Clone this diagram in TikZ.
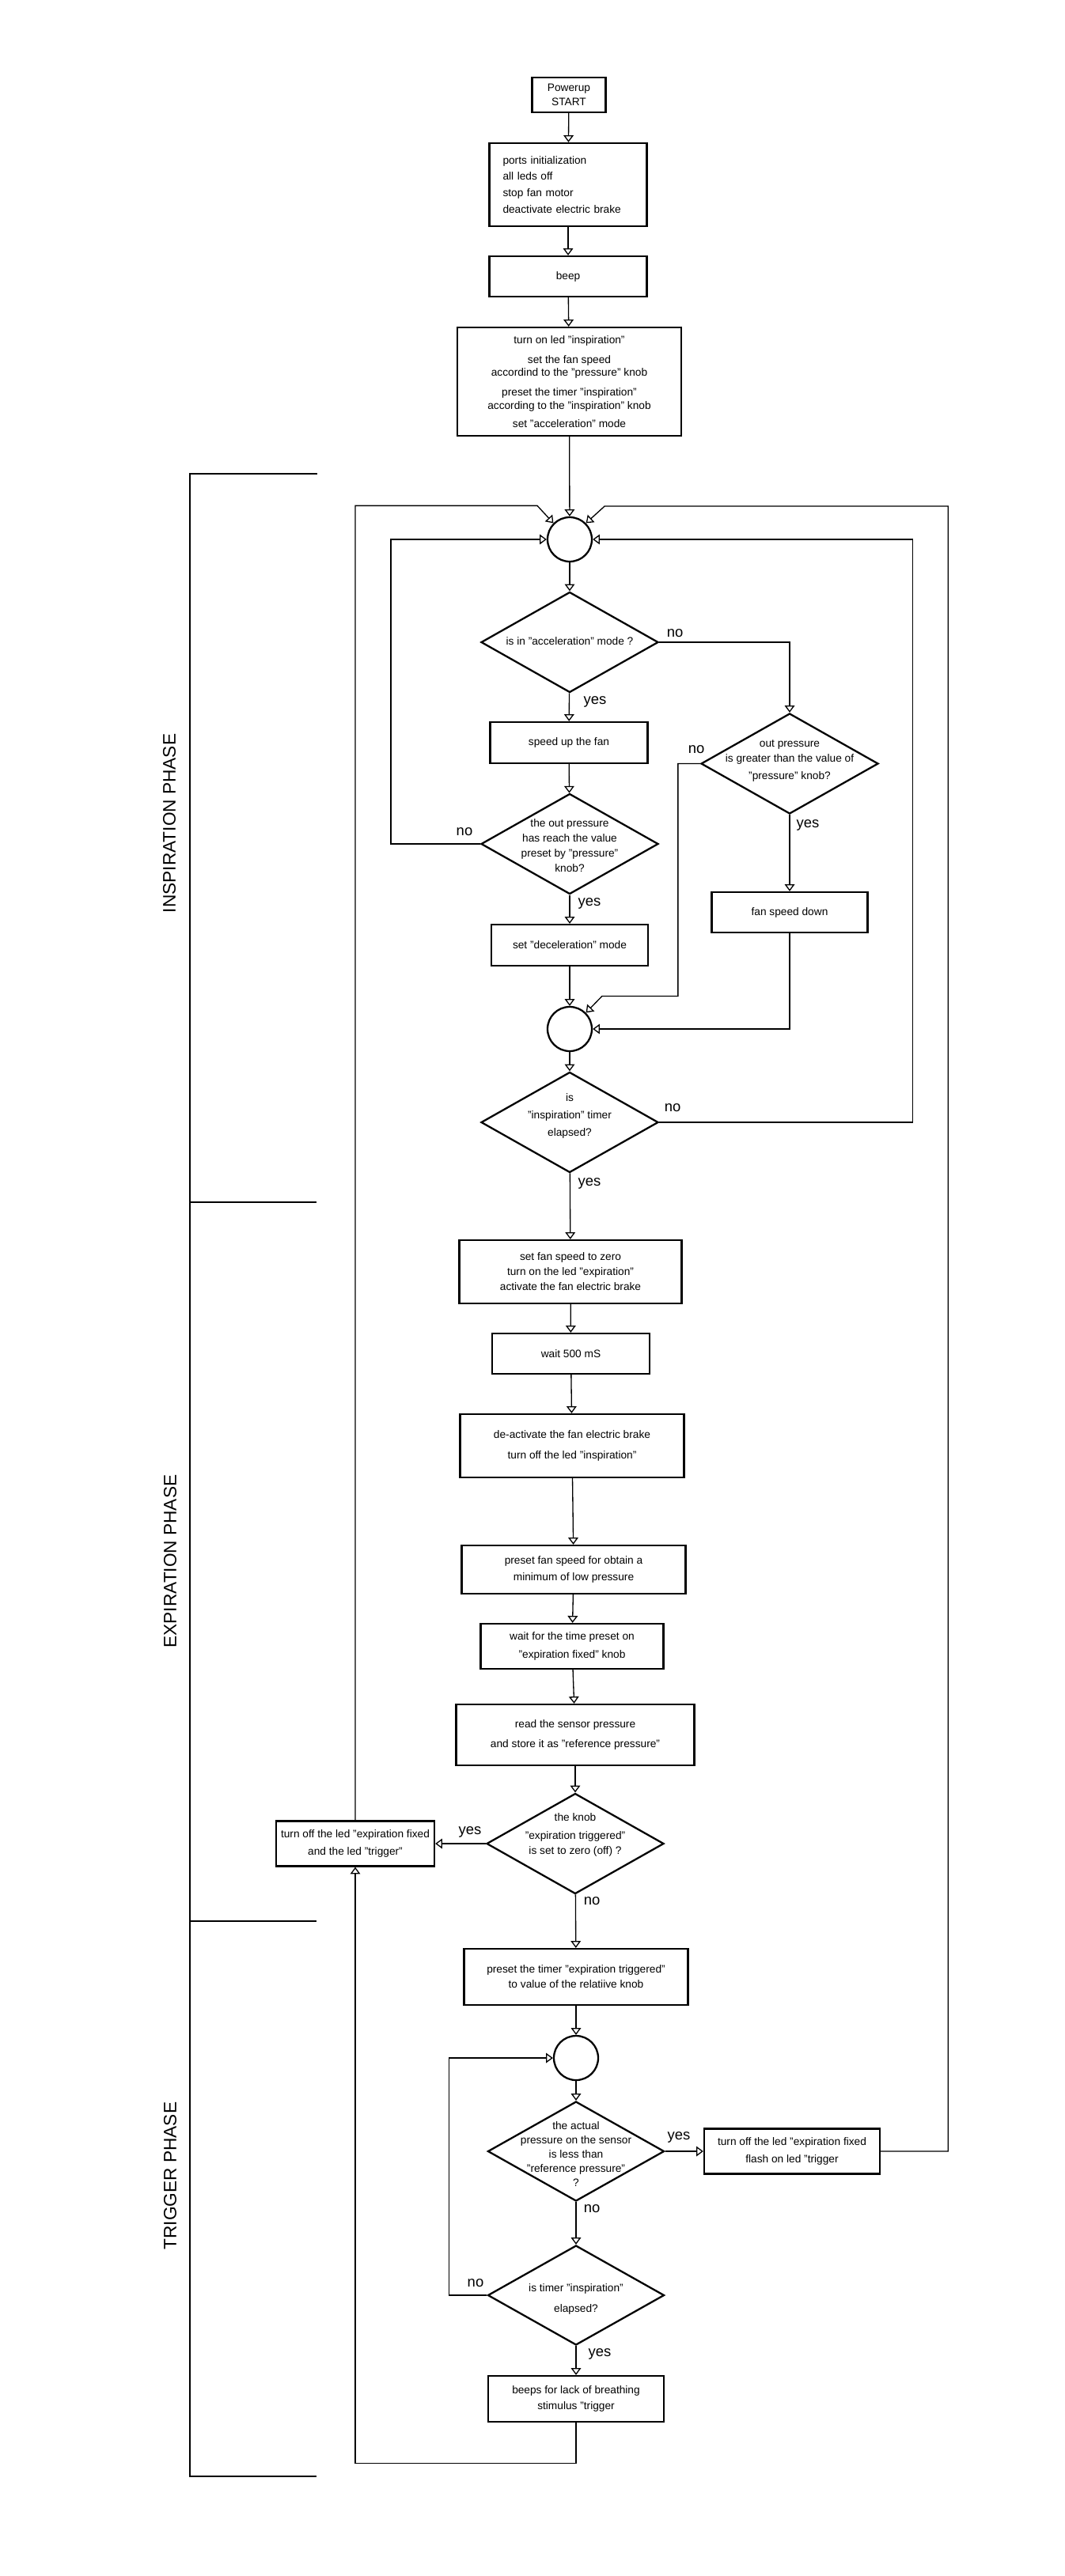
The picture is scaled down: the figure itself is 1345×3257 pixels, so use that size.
\documentclass[tikz,border=0pt]{standalone}
\usepackage{fontspec}
\setmainfont{Liberation Sans}
\usetikzlibrary{arrows.meta,shapes.geometric}
\newlength{\pix}
\setlength{\pix}{0.02cm}
\begin{document}
\begin{tikzpicture}[x=0.02cm,y=-0.02cm,
	caja/.style={draw,line width=1.3pt,inner sep=0pt,align=center,font=\fontsize{7.8}{9.4}\selectfont},
	rombo/.style={draw,diamond,line width=1.3pt,inner sep=0pt,minimum width=224\pix,minimum height=127\pix},
	texto/.style={align=center,inner sep=0pt,font=\fontsize{7.8}{9.4}\selectfont},
	nudo/.style={draw,circle,line width=1.3pt,inner sep=0pt,minimum size=56\pix},
	flecha/.style={line width=0.75pt,-{Triangle[open,length=5pt,width=7.2pt]}},
	resp/.style={inner sep=0pt,font=\fontsize{10.5}{12}\selectfont},
	fase/.style={rotate=90,inner sep=0pt,font=\fontsize{12.9}{15}\selectfont}]
  \useasboundingbox (0,0) rectangle (1345,3257);

  % Arranque
	\node[caja,minimum width=93\pix,minimum height=44\pix] (start) at (719,120) {Powerup\\[1.1pt]START};
	\node[caja,minimum width=199\pix,minimum height=105\pix,text width=165\pix,align=left] (init) at (718,233.5)
		{ports initialization\\[2.5pt]all leds off\\[2.5pt]stop fan motor\\[2.5pt]deactivate electric brake};
	\node[caja,minimum width=199\pix,minimum height=51\pix] (beep) at (718,349.5) {beep};
	\node[caja,minimum width=283\pix,minimum height=137\pix] (turnon) at (719.5,482.5)
		{turn on led "inspiration"\\[4.8pt]set the fan speed\\accordind to the "pressure" knob\\[4.8pt]preset the timer "inspiration"\\according to the "inspiration" knob\\[3.6pt]set "acceleration" mode};

  % Fase de inspiracion
	\node[nudo] (c1) at (720,682) {};
	\node[rombo] (d1) at (720,812) {};
	\node[texto] (d1t) at (720,811) {is in "acceleration" mode ?};
	\node[caja,minimum width=199\pix,minimum height=52\pix] (speedup) at (719,939) {speed up the fan};
	\node[rombo] (d3) at (998,965.5) {};
	\node[texto] (d3t) at (998,962) {out pressure\\[1.4pt]is greater than the value of\\[3.1pt]"pressure" knob?};
	\node[rombo] (d2) at (720,1067) {};
	\node[texto] (d2t) at (720,1069.5) {the out pressure\\[1.4pt]has reach the value\\[1.4pt]preset by "pressure"\\[1.4pt]knob?};
	\node[caja,minimum width=198\pix,minimum height=52\pix] (decel) at (720,1195) {set "deceleration" mode};
	\node[caja,minimum width=197\pix,minimum height=51\pix] (fandown) at (998,1153.5) {fan speed down};
	\node[nudo] (c2) at (720,1301) {};
	\node[rombo] (d4) at (720,1419) {};
	\node[texto] (d4t) at (720,1411) {is\\[3.1pt]"inspiration" timer\\[3.1pt]elapsed?};

  % Fase de espiracion
	\node[caja,minimum width=281\pix,minimum height=80\pix] (setzero) at (721,1608)
		{set fan speed to zero\\[1.4pt]turn on the led "expiration"\\[1.4pt]activate the fan electric brake};
	\node[caja,minimum width=199\pix,minimum height=51\pix] (wait500) at (721.5,1711.5) {wait 500 mS};
	\node[caja,minimum width=283\pix,minimum height=80\pix] (deact) at (723,1828)
		{de-activate the fan electric brake\\[5.3pt]turn off the led "inspiration"};
	\node[caja,minimum width=283\pix,minimum height=61\pix] (presetfan) at (725,1984.5)
		{preset fan speed for obtain a\\[2.5pt]minimum of low pressure};
	\node[caja,minimum width=231\pix,minimum height=57\pix] (waitfor) at (723,2081.5)
		{wait for the time preset on\\[3.6pt]"expiration fixed" knob};
	\node[caja,minimum width=301\pix,minimum height=77\pix] (read) at (727,2193.5)
		{read the sensor pressure\\[4.8pt]and store it as "reference pressure"};
	\node[rombo] (d5) at (727,2331) {};
	\node[texto] (d5t) at (727,2320) {the knob\\[3.6pt]"expiration triggered"\\[1.9pt]is set to zero (off) ?};
	\node[caja,minimum width=200\pix,minimum height=57\pix] (leftbox) at (449,2331)
		{turn off the led "expiration fixed\\[3.1pt]and the led "trigger"};

  % Fase de disparo
	\node[caja,minimum width=283\pix,minimum height=71\pix] (presettimer) at (728,2499.5)
		{preset the timer "expiration triggered"\\[1.4pt]to value of the relatiive knob};
	\node[nudo] (c3) at (728,2602) {};
	\node[rombo,minimum width=223\pix,minimum height=126\pix] (d6) at (728,2720) {};
	\node[texto] (d6t) at (728,2723.5) {the actual\\[0.9pt]pressure on the sensor\\[0.9pt]is less than\\[0.9pt]"reference pressure"\\[0.9pt]?};
	\node[caja,minimum width=222\pix,minimum height=57\pix] (trigbox) at (1001,2720)
		{turn off the led "expiration fixed\\[3.6pt]flash on led "trigger};
	\node[rombo,minimum width=223\pix,minimum height=126\pix] (d7) at (728,2902) {};
	\node[texto] (d7t) at (728,2907) {is timer "inspiration"\\[5.3pt]elapsed?};
	\node[caja,minimum width=222\pix,minimum height=58\pix] (beeps) at (728,3033)
		{beeps for lack of breathing\\[1.9pt]stimulus "trigger};

  % Respuestas
	\node[resp] (d1no) at (853,801) {no};
	\node[resp] (d1yes) at (752,887) {yes};
	\node[resp] (d3no) at (880,948) {no};
	\node[resp] (d3yes) at (1021,1043) {yes};
	\node[resp] (d2no) at (587,1052) {no};
	\node[resp] (d2yes) at (745,1142) {yes};
	\node[resp] (d4no) at (850,1401) {no};
	\node[resp] (d4yes) at (745,1496) {yes};
	\node[resp] (d5yes) at (594,2316) {yes};
	\node[resp] (d5no) at (748,2404) {no};
	\node[resp] (d6yes) at (858,2702) {yes};
	\node[resp] (d6no) at (748,2793) {no};
	\node[resp] (d7no) at (601,2887) {no};
	\node[resp] (d7yes) at (758,2976) {yes};

  % Fases
	\node[fase] (ph1) at (214,1041) {INSPIRATION PHASE};
	\node[fase] (ph2) at (215,1974) {EXPIRATION PHASE};
	\node[fase] (ph3) at (215,2751) {TRIGGER PHASE};
	\draw[line width=0.75pt] (401,599) -- (240,599) -- (240,3131) -- (400,3131);
	\draw[line width=0.75pt] (240,1520) -- (400,1520);
	\draw[line width=0.75pt] (240,2429) -- (400,2429);

  % Flechas principales
	\draw[flecha] (start) -- (init);
	\draw[flecha] (init) -- (beep);
	\draw[flecha] (beep) -- (turnon);
	\draw[flecha] (turnon) -- (c1);
	\draw[flecha] (c1) -- (d1);
	\draw[flecha] (d1) -- (speedup);
	\draw[flecha] (speedup) -- (d2);
	\draw[flecha] (d2) -- (decel);
	\draw[flecha] (decel) -- (c2);
	\draw[flecha] (c2) -- (d4);
	\draw[flecha] (d4) -- (setzero);
	\draw[flecha] (setzero) -- (wait500);
	\draw[flecha] (wait500) -- (deact);
	\draw[flecha] (deact) -- (presetfan);
	\draw[flecha] (presetfan) -- (waitfor);
	\draw[flecha] (waitfor) -- (read);
	\draw[flecha] (read) -- (d5);
	\draw[flecha] (d5) -- (presettimer);
	\draw[flecha] (presettimer) -- (c3);
	\draw[flecha] (c3) -- (d6);
	\draw[flecha] (d6) -- (d7);
	\draw[flecha] (d7) -- (beeps);

  % Ramas y lazos
	\draw[flecha] (d1.east) -| (d3.north);
	\draw[flecha] (d3) -- (fandown);
	\draw[flecha] (fandown.south) |- (c2.east);
	\draw[flecha] (d3.west) -- ++(-28,0) -- ++(0,294) -- ++(-96,0) -- (c2.45);
	\draw[flecha] (d2.west) -- ++(-113,0) |- (c1.west);
	\draw[flecha] (d4.east) -- ++(320,0) |- (c1.east);
	\draw[flecha] (d5.west) -- (leftbox.east);
	\draw[flecha] (leftbox.north) -- ++(0,-1662) -- ++(230,0) -- (c1.135);
	\draw[flecha] (d6.east) -- (trigbox.west);
	\draw[flecha] (trigbox.east) -- ++(85,0) -- ++(0,-2080) -- ++(-434,0) -- (c1.45);
	\draw[flecha] (d7.west) -- ++(-48,0) |- (c3.west);
	\draw[flecha] (beeps.south) -- ++(0,51) -| (leftbox.south);
\end{tikzpicture}
\end{document}
